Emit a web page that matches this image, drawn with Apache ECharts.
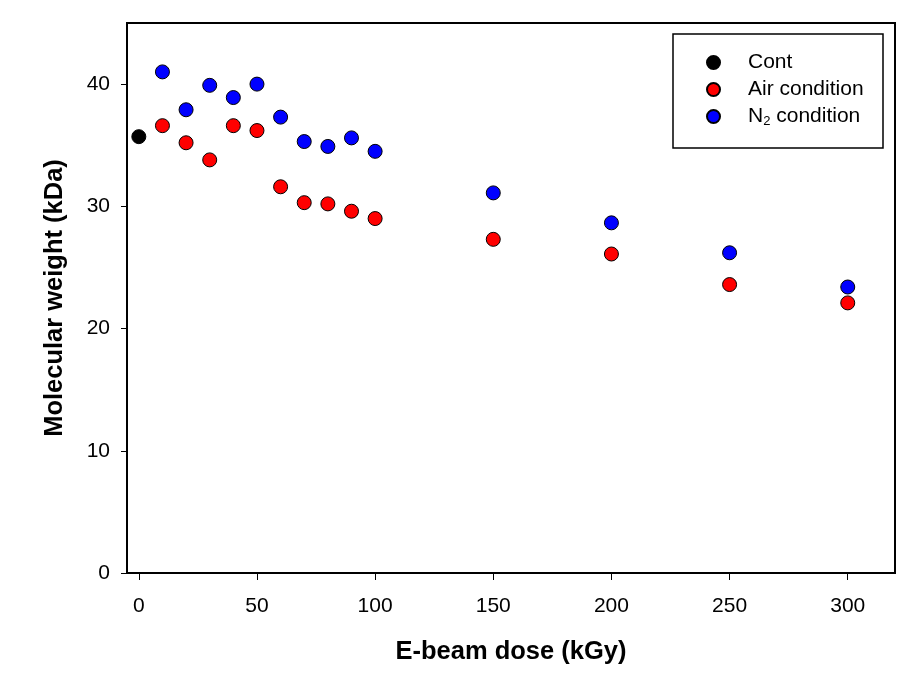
<!DOCTYPE html>
<html>
<head>
<meta charset="utf-8">
<script src="https://cdn.jsdelivr.net/npm/echarts@6/dist/echarts.min.js"></script>
<style>html,body{margin:0;padding:0;background:#fff}#c{width:919px;height:673px}</style>
</head>
<body>
<div id="c"></div>
<script>
const contDose = [0];
const contMW = [35.7];
const doses = [10, 20, 30, 40, 50, 60, 70, 80, 90, 100, 150, 200, 250, 300];
const airMW = [36.6, 35.2, 33.8, 36.6, 36.2, 31.6, 30.3, 30.2, 29.6, 29.0, 27.3, 26.1, 23.6, 22.1];
const n2MW = [41.0, 37.9, 39.9, 38.9, 40.0, 37.3, 35.3, 34.9, 35.6, 34.5, 31.1, 28.65, 26.2, 23.4];
const xTicks = [0, 50, 100, 150, 200, 250, 300];
const yTicks = [0, 10, 20, 30, 40];

const font = 'Liberation Sans, Arial, sans-serif';
const pair = (xs, ys) => xs.map((x, i) => [x, ys[i]]);
const mk = (name, color, data) => ({
  name, type: 'scatter', data, symbol: 'circle', symbolSize: 14,
  itemStyle: { color, opacity: 1, borderColor: '#000', borderWidth: 1 },
  emphasis: { disabled: true }
});

const chart = echarts.init(document.getElementById('c'));
chart.setOption({
  animation: false,
  backgroundColor: '#fff',
  grid: { left: 127, right: 24, top: 23, bottom: 100, show: true, borderColor: '#000', borderWidth: 2, backgroundColor: 'transparent' },
  xAxis: {
    type: 'value', min: -5, max: 320,
    name: 'E-beam dose (kGy)', nameLocation: 'middle', nameGap: 66,
    nameTextStyle: { fontFamily: font, fontSize: 25.5, fontWeight: 'bold', color: '#000' },
    axisLine: { show: true, onZero: false, lineStyle: { color: '#000', width: 2 } },
    axisTick: { show: true, length: 7, lineStyle: { color: '#000', width: 1 }, customValues: xTicks },
    axisLabel: { fontFamily: font, fontSize: 21, color: '#000', margin: 23, customValues: xTicks },
    splitLine: { show: false }
  },
  yAxis: {
    type: 'value', min: 0, max: 45,
    name: 'Molecular weight (kDa)', nameLocation: 'middle', nameGap: 59,
    nameTextStyle: { fontFamily: font, fontSize: 25.5, fontWeight: 'bold', color: '#000' },
    axisLine: { show: true, onZero: false, lineStyle: { color: '#000', width: 1.5 } },
    axisTick: { show: true, length: 6, lineStyle: { color: '#000', width: 1 }, customValues: yTicks },
    axisLabel: { fontFamily: font, fontSize: 21, color: '#000', margin: 17, customValues: yTicks },
    splitLine: { show: false }
  },
  legend: {
    orient: 'vertical', left: 706, top: 52, padding: 0, itemGap: 6,
    itemWidth: 13, itemHeight: 13, icon: 'circle',
    data: ['Cont', 'Air condition', 'N2 condition'],
    formatter: n => n === 'N2 condition' ? 'N{sub|2} condition' : n,
    textStyle: { fontFamily: font, fontSize: 21, color: '#000', padding: [0, 0, 0, 23],
      rich: { sub: { fontFamily: font, fontSize: 13, verticalAlign: 'bottom', padding: [10, 0, 0, 0] } } }
  },
  graphic: [{ type: 'rect', shape: { x: 673, y: 34, width: 210, height: 114 }, style: { fill: 'none', stroke: '#000', lineWidth: 1.5 }, z: 10 }],
  series: [
    mk('Cont', '#000000', pair(contDose, contMW)),
    mk('Air condition', '#ff0000', pair(doses, airMW)),
    mk('N2 condition', '#0000ff', pair(doses, n2MW))
  ]
});
</script>
</body>
</html>
